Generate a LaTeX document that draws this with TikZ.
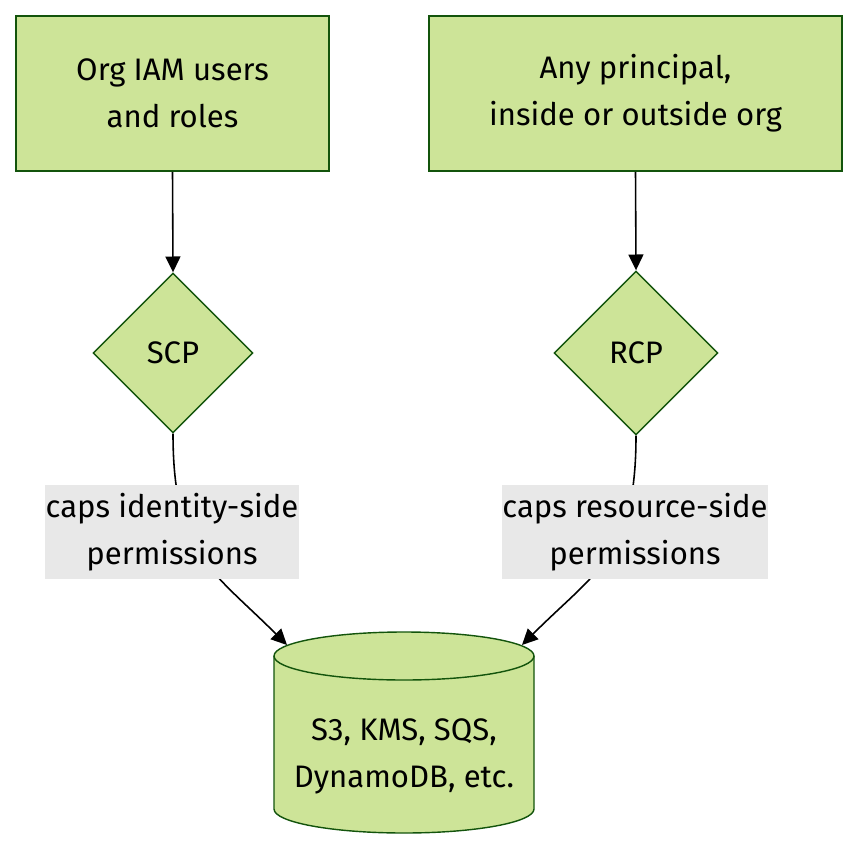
\documentclass[tikz,border=0pt]{standalone}
\usepackage{fontspec}
\setmainfont{Fira Sans}
\usetikzlibrary{shapes.geometric,arrows.meta}
\definecolor{leaf}{HTML}{CDE498}
\definecolor{leafline}{HTML}{13540C}
\definecolor{tag}{HTML}{E8E8E8}
\begin{document}
\begin{tikzpicture}[x=0.02cm,y=0.02cm,font=\fontsize{17.7}{26.6}\selectfont,
  box/.style={draw=leafline,fill=leaf,line width=1pt,align=center,minimum height=3.1cm},
  gate/.style={diamond,draw=leafline,fill=leaf,line width=0.8pt,aspect=1,inner sep=0pt},
  tagbox/.style={fill=tag,align=center,inner sep=0pt,minimum height=1.9cm},
  edge/.style={line width=0.9pt,-{Triangle[length=9pt,width=8.5pt]}}]
 \useasboundingbox (0,0) rectangle (858,850);
 \node[box,minimum width=6.26cm] (org) at (172.5,756.5) {Org IAM users\\and roles};
 \node[box,minimum width=8.26cm] (any) at (635.5,756.5) {Any principal,\\inside or outside org};
 \node[gate,minimum width=3.2cm,minimum height=3.2cm] (scp) at (173,497) {SCP};
 \node[gate,minimum width=3.28cm,minimum height=3.28cm] (rcp) at (636,497) {RCP};
 \draw[draw=leafline,fill=leaf,line width=0.8pt] (274,194) -- (274,41)
   arc[start angle=180,end angle=360,x radius=130,y radius=24] -- (534,194)
   arc[start angle=0,end angle=180,x radius=130,y radius=24] -- cycle;
 \draw[draw=leafline,line width=0.8pt] (274,194) arc[start angle=180,end angle=360,x radius=130,y radius=24];
 \node[align=center] (db) at (404,93.5) {S3, KMS, SQS,\\DynamoDB, etc.};
 \coordinate (dbL) at (287,205);
 \coordinate (dbR) at (522,205);
 \draw[edge] (org.south) -- (scp.north);
 \draw[edge] (any.south) -- (rcp.north);
 \draw[edge] (scp.south) .. controls +(0,-120) and +(-75,75) .. (dbL);
 \draw[edge] (rcp.south) .. controls +(0,-120) and +(75,75) .. (dbR);
 \node[tagbox,minimum width=5.08cm] (capsid) at (172,318) {caps identity-side\\permissions};
 \node[tagbox,minimum width=5.32cm] (capsres) at (635,318) {caps resource-side\\permissions};
\end{tikzpicture}
\end{document}
